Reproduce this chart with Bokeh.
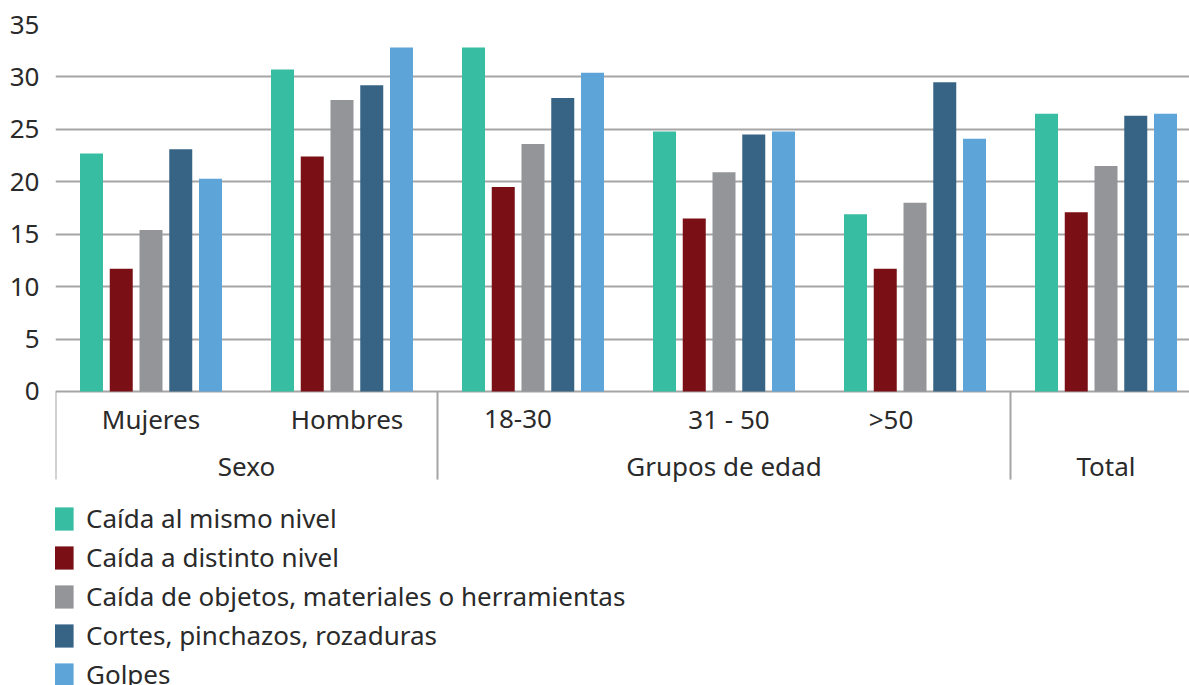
from bokeh.plotting import figure
from bokeh.models import Range1d, FixedTicker, Legend, LegendItem, ColumnDataSource
from bokeh.core.properties import value
from bokeh.embed import file_html
from bokeh.resources import INLINE

# ---------------- data ----------------
categories = ["Mujeres", "Hombres", "18-30", "31 - 50", ">50", ""]
groups = ["Sexo", "Grupos de edad", "Total"]
group_sizes = [2, 3, 1]
series_names = [
    "Caída al mismo nivel",
    "Caída a distinto nivel",
    "Caída de objetos, materiales o herramientas",
    "Cortes, pinchazos, rozaduras",
    "Golpes",
]
caida_mismo_nivel = [22.7, 30.7, 32.8, 24.8, 16.9, 26.5]
caida_distinto_nivel = [11.7, 22.4, 19.5, 16.5, 11.7, 17.1]
caida_objetos = [15.4, 27.8, 23.6, 20.9, 18.0, 21.5]
cortes = [23.1, 29.2, 28.0, 24.5, 29.5, 26.3]
golpes = [20.3, 32.8, 30.4, 24.8, 24.1, 26.5]
y_ticks = [0, 5, 10, 15, 20, 25, 30, 35]

series_values = [caida_mismo_nivel, caida_distinto_nivel, caida_objetos, cortes, golpes]
colors = ["#37BDA2", "#7A1015", "#949599", "#376485", "#5DA4D8"]

FONT = "Noto Sans"
FS = "26px"
TXT = "#2a2a2a"
GRID = "#a5a5a5"

slot_px = 191.0
frame_w = 1189 - 55
n = len(categories)

p = figure(
    width=1189, height=685,
    x_range=Range1d(0, frame_w / slot_px),
    y_range=Range1d(-28.04, 35),
    output_backend="svg", toolbar_location=None,
    min_border_left=55, min_border_right=0, min_border_top=24, min_border_bottom=0,
)
p.outline_line_color = None
p.background_fill_color = "white"
p.xaxis.visible = False
p.xgrid.visible = False

p.yaxis.ticker = FixedTicker(ticks=y_ticks)
p.yaxis.axis_line_color = None
p.yaxis.major_tick_line_color = None
p.yaxis.minor_tick_line_color = None
p.yaxis.major_tick_out = 0
p.yaxis.major_tick_in = 0
p.yaxis.major_label_standoff = 16
p.yaxis.major_label_text_font = FONT
p.yaxis.major_label_text_font_size = FS
p.yaxis.major_label_text_color = TXT
p.ygrid.ticker = FixedTicker(ticks=y_ticks)
p.ygrid.grid_line_color = GRID
p.ygrid.grid_line_width = 2

# bars
step = 29.75 / slot_px
bar_w = 23.0 / slot_px
renderers = []
for j, (vals, col) in enumerate(zip(series_values, colors)):
    xs = [i + 0.5 + (j - 2) * step for i in range(n)]
    src = ColumnDataSource(dict(x=xs, top=vals))
    r = p.vbar(x="x", top="top", bottom=0, width=bar_w, source=src,
               fill_color=col, line_color=None)
    renderers.append(r)

# group separators
bounds = [0]
for s in group_sizes:
    bounds.append(bounds[-1] + s)
p.segment(x0=bounds, y0=[0] * len(bounds), x1=bounds, y1=[-8.4] * len(bounds),
          line_color=GRID, line_width=2)

# category labels
nudge = [0, 5, -15, 5, -24, 0]
cat_src = ColumnDataSource(dict(x=[i + 0.5 for i in range(n)], y=[-2.65] * n,
                                t=categories, dx=nudge))
p.text(x="x", y="y", text="t", x_offset="dx", source=cat_src,
       text_align="center", text_baseline="middle",
       text_font=value(FONT), text_font_size=FS, text_color=TXT)

# group labels
gx = []
for k, s in enumerate(group_sizes):
    gx.append((bounds[k] + bounds[k + 1]) / 2)
p.text(x=gx, y=[-7.15] * len(groups), text=groups,
       text_align="center", text_baseline="middle",
       text_font=value(FONT), text_font_size=FS, text_color=TXT)

legend = Legend(
    items=[LegendItem(label=nm, renderers=[r]) for nm, r in zip(series_names, renderers)],
    location=(-8, -8), orientation="vertical",
    glyph_width=29, glyph_height=29, label_height=38, spacing=1,
    padding=0, margin=0, border_line_color=None, background_fill_alpha=0,
    label_standoff=10, label_text_font=FONT, label_text_font_size=FS,
    label_text_color=TXT,
)
p.add_layout(legend)

open("out.html", "w").write(file_html(p, INLINE))
